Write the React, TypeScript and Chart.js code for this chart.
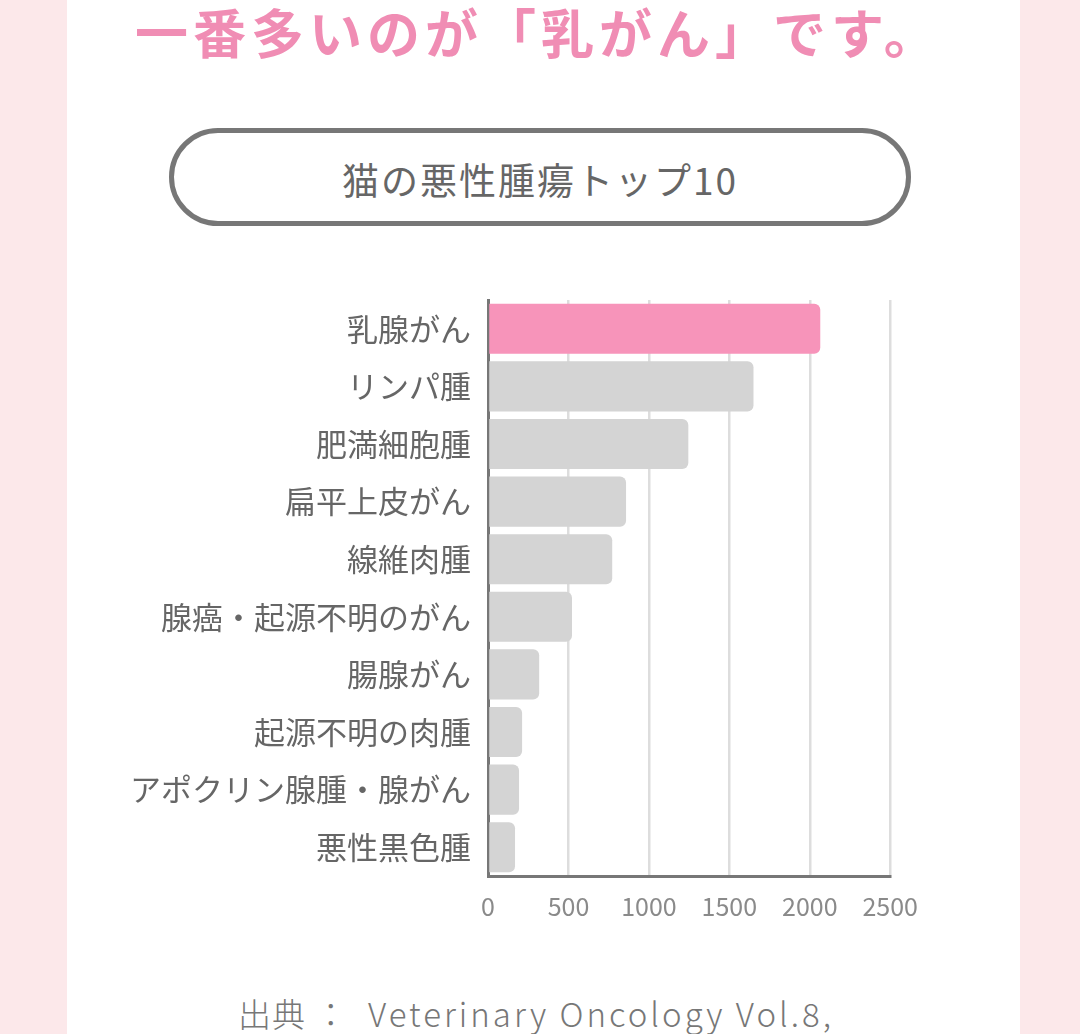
import React, { useEffect, useRef } from "react";
import { Chart, registerables } from "chart.js";

Chart.register(...registerables);

const categories = [
  "乳腺がん",
  "リンパ腫",
  "肥満細胞腫",
  "扁平上皮がん",
  "線維肉腫",
  "腺癌・起源不明のがん",
  "腸腺がん",
  "起源不明の肉腫",
  "アポクリン腺腫・腺がん",
  "悪性黒色腫",
];
const caseCounts = [2065, 1650, 1245, 858, 772, 522, 318, 212, 193, 168];
const barColors = [
  "#F794BA",
  "#D4D4D4",
  "#D4D4D4",
  "#D4D4D4",
  "#D4D4D4",
  "#D4D4D4",
  "#D4D4D4",
  "#D4D4D4",
  "#D4D4D4",
  "#D4D4D4",
];
const xTicks = [0, 500, 1000, 1500, 2000, 2500];

const headline = "一番多いのが「乳がん」です。";
const boxTitle = "猫の悪性腫瘍トップ10";
const sourcePrefix = "出典 ：";
const sourceText = "Veterinary Oncology Vol.8,";

const FONT = "'Noto Sans CJK JP', 'Noto Sans', sans-serif";

const CANVAS_LEFT = 100;
const CANVAS_TOP = 258;
const CANVAS_W = 833;
const CANVAS_H = 680;

export default function App() {
  const ref = useRef<HTMLCanvasElement | null>(null);

  useEffect(() => {
    if (!ref.current) return;
    const chart = new Chart(ref.current, {
      type: "bar",
      data: {
        labels: categories,
        datasets: [
          {
            data: caseCounts,
            backgroundColor: barColors,
            borderRadius: 6,
            barPercentage: 0.87,
            categoryPercentage: 1,
          },
        ],
      },
      options: {
        indexAxis: "y",
        animation: false,
        responsive: false,
        maintainAspectRatio: false,
        layout: { padding: { top: 42, left: 0, right: 0, bottom: 0 } },
        plugins: { legend: { display: false }, tooltip: { enabled: false } },
        scales: {
          x: {
            type: "linear",
            min: 0,
            max: 2500,
            afterBuildTicks: (scale: any) => {
              scale.ticks = xTicks.map((v) => ({ value: v }));
            },
            afterFit: (scale: any) => {
              scale.height = 62;
            },
            grid: {
              color: "#DDDDDD",
              lineWidth: 2.5,
              drawTicks: false,
            },
            border: { color: "#777777", width: 3 },
            ticks: {
              color: "#8A8A8A",
              padding: 15,
              font: { family: FONT, size: 25 },
              callback: (v: any) => String(v),
            },
          },
          y: {
            type: "category",
            z: 1,
            afterFit: (scale: any) => {
              scale.width = 488 - CANVAS_LEFT;
            },
            grid: { display: false, drawTicks: false },
            border: { color: "#777777", width: 3 },
            ticks: {
              color: "#666666",
              padding: 17,
              font: { family: FONT, size: 31 },
            },
          },
        },
      },
    });
    return () => chart.destroy();
  }, []);

  return (
    <div
      style={{
        position: "fixed",
        left: 0,
        top: 0,
        width: 1080,
        height: 1034,
        background: "#FCE8EA",
        overflow: "hidden",
        fontFamily: FONT,
      }}
    >
      <div
        style={{
          position: "absolute",
          left: 67,
          top: 0,
          width: 953,
          height: 1034,
          background: "#FFFFFF",
        }}
      />
      <div
        style={{
          position: "absolute",
          left: 135,
          top: 0,
          color: "#F08DB4",
          fontSize: 53,
          fontWeight: 700,
          letterSpacing: 5,
          lineHeight: "62px",
          whiteSpace: "nowrap",
        }}
      >
        {headline}
      </div>
      <div
        style={{
          position: "absolute",
          left: 169,
          top: 128,
          width: 742,
          height: 98,
          boxSizing: "border-box",
          border: "5px solid #777777",
          borderRadius: 49,
          display: "flex",
          alignItems: "center",
          justifyContent: "center",
          color: "#666666",
          fontSize: 37,
          fontWeight: 400,
          letterSpacing: 2,
          paddingTop: 4,
        }}
      >
        {boxTitle}
      </div>
      <canvas
        ref={ref}
        width={CANVAS_W}
        height={CANVAS_H}
        style={{
          position: "absolute",
          left: CANVAS_LEFT,
          top: CANVAS_TOP,
          width: CANVAS_W,
          height: CANVAS_H,
        }}
      />
      <div
        style={{
          position: "absolute",
          left: 238,
          top: 990,
          color: "#777777",
          fontSize: 33,
          fontWeight: 300,
          lineHeight: "46px",
          whiteSpace: "pre",
        }}
      >
        <span style={{ letterSpacing: 1 }}>{sourcePrefix}</span>
        <span style={{ position: "absolute", left: 130, top: 0, letterSpacing: 3 }}>
          {sourceText}
        </span>
      </div>
    </div>
  );
}
